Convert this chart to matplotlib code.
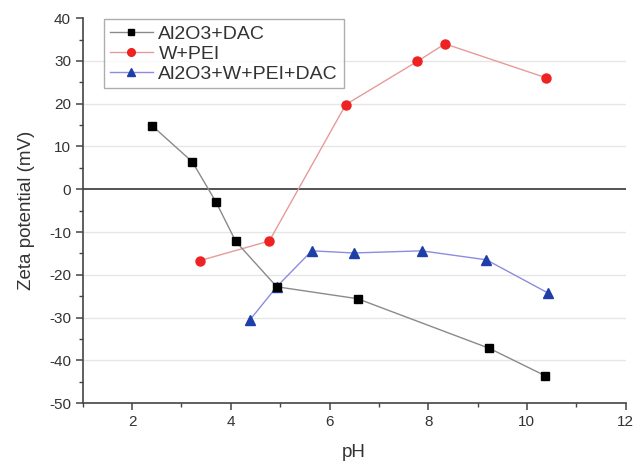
import matplotlib
matplotlib.use("Agg")
import matplotlib.pyplot as plt
from matplotlib.ticker import MultipleLocator

plt.rcParams['font.family'] = ['Liberation Sans', 'DejaVu Sans']
plt.rcParams['axes.unicode_minus'] = False

# Data
ph_dac = [2.40, 3.22, 3.70, 4.10, 4.93, 6.57, 9.24, 10.37]
zeta_dac = [14.9, 6.4, -3.0, -12.2, -22.8, -25.6, -37.2, -43.6]

ph_wpei = [3.37, 4.78, 6.33, 7.78, 8.34, 10.38]
zeta_wpei = [-16.7, -12.1, 19.8, 29.9, 34.0, 26.1]

ph_all = [4.39, 4.93, 5.64, 6.49, 7.87, 9.18, 10.42]
zeta_all = [-30.5, -22.8, -14.4, -14.9, -14.4, -16.5, -24.2]

labels = ["Al2O3+DAC", "W+PEI", "Al2O3+W+PEI+DAC"]

fig = plt.figure(figsize=(6.37, 4.66), dpi=100)
ax = fig.add_axes([0.130, 0.135, 0.852, 0.826])

txt = '#333333'
for y in [-40, -30, -20, -10, 10, 20, 30]:
    ax.axhline(y, color='#e6e6e6', lw=1.0, zorder=0)
ax.axhline(0, color='#444444', lw=1.3, zorder=1)

ax.plot(ph_all, zeta_all, color='#8c8ce0', lw=1.0, marker='^', ms=6.8,
        mfc='#1f3fa8', mec='#1f3fa8', label=labels[2], zorder=2)
ax.plot(ph_wpei, zeta_wpei, color='#e89a9a', lw=1.0, marker='o', ms=6.5,
        mfc='#ee2222', mec='#ee2222', label=labels[1], zorder=3)
ax.plot(ph_dac, zeta_dac, color='#8a8a8a', lw=1.0, marker='s', ms=5.8,
        mfc='black', mec='black', label=labels[0], zorder=4)

ax.set_xlim(1, 12)
ax.set_ylim(-50, 40)
ax.xaxis.set_major_locator(MultipleLocator(2))
ax.xaxis.set_minor_locator(MultipleLocator(1))
ax.yaxis.set_major_locator(MultipleLocator(10))
ax.yaxis.set_minor_locator(MultipleLocator(5))
ax.set_xticks([2, 4, 6, 8, 10, 12])

ax.spines['top'].set_visible(False)
ax.spines['right'].set_visible(False)
for s in ['left', 'bottom']:
    ax.spines[s].set_color('#444444')
    ax.spines[s].set_linewidth(1.2)

ax.tick_params(which='major', direction='out', length=5, width=1.1,
               color='#444444', labelsize=11, labelcolor=txt)
ax.tick_params(which='minor', direction='out', length=3, width=1.0,
               color='#444444')

ax.set_xlabel('pH', fontsize=13.5, color=txt, labelpad=11)
ax.set_ylabel('Zeta potential (mV)', fontsize=13.5, color=txt, labelpad=10)

h, l = ax.get_legend_handles_labels()
order = [2, 1, 0]
leg = ax.legend([h[i] for i in order], [l[i] for i in order],
                loc='upper left', bbox_to_anchor=(0.039, 0.997),
                fontsize=14, frameon=True, fancybox=False,
                edgecolor='#999999', handlelength=2.2, borderpad=0.3,
                labelspacing=0.12, handletextpad=0.3, markerscale=0.85,
                borderaxespad=0.0)
for t in leg.get_texts():
    t.set_color(txt)

fig.savefig('out.png', dpi=100, facecolor='white')
